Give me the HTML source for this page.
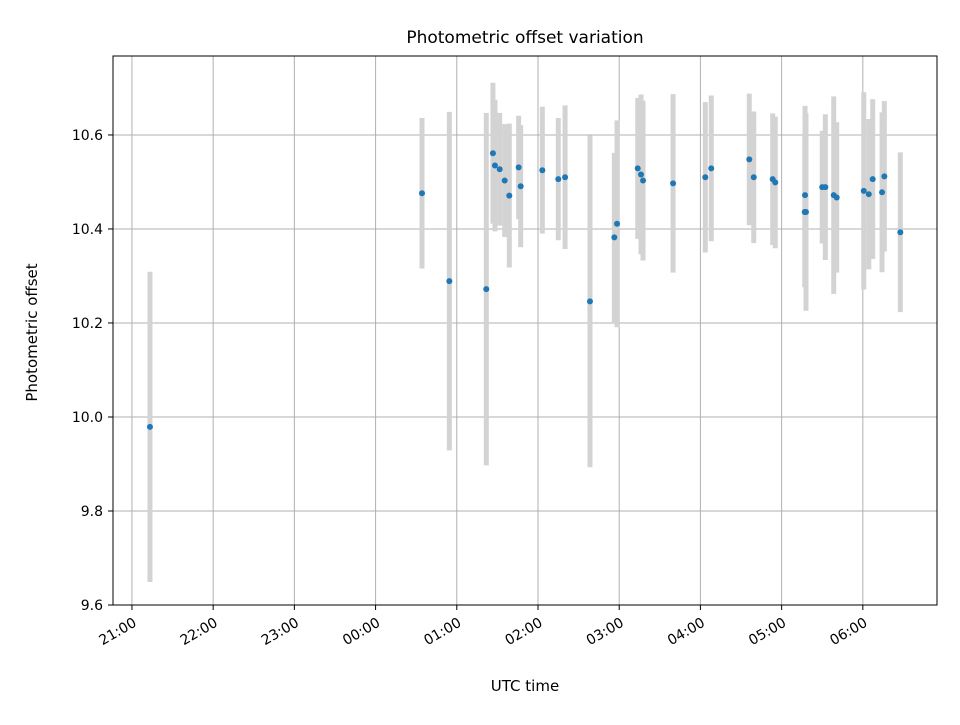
<!DOCTYPE html>
<html><head><meta charset="utf-8"><style>
body{margin:0;background:#fff;font-family:"Liberation Sans","DejaVu Sans",sans-serif}
svg text{font-family:"DejaVu Sans","Liberation Sans",sans-serif}
</style></head><body>
<svg id="chart" width="960" height="720" xmlns="http://www.w3.org/2000/svg"></svg>
<script>
// minutes since 21:00
const times=[13.3,214.3,234.5,261.8,266.7,268.2,271.7,275.4,278.8,285.7,287.2,303.2,315,320,338.4,356.4,358.4,373.7,376.1,377.6,399.8,423.6,428,456.1,459.4,473.4,475.3,497.1,498,497.3,510,512.3,518.5,520.7,540.7,544.4,547.3,554.2,555.9,567.7];
const offsets=[9.979,10.476,10.289,10.272,10.561,10.535,10.527,10.503,10.471,10.531,10.491,10.525,10.506,10.51,10.246,10.382,10.411,10.529,10.516,10.503,10.497,10.51,10.529,10.548,10.51,10.506,10.499,10.436,10.436,10.472,10.489,10.489,10.472,10.467,10.481,10.474,10.506,10.478,10.512,10.393];
const errors=[0.33,0.16,0.36,0.375,0.15,0.14,0.12,0.12,0.153,0.11,0.13,0.135,0.13,0.153,0.353,0.18,0.22,0.15,0.17,0.17,0.19,0.16,0.155,0.14,0.14,0.14,0.14,0.16,0.21,0.19,0.12,0.155,0.21,0.16,0.21,0.16,0.17,0.17,0.16,0.17];
const xTickLabels=["21:00","22:00","23:00","00:00","01:00","02:00","03:00","04:00","05:00","06:00"];
const yTicks=[9.6,9.8,10.0,10.2,10.4,10.6];

const L=113,R=937,T=56,B=605;
const xMin=-14,xMax=594.8,yMin=9.6,yMax=10.768;
const xs=m=>L+(m-xMin)/(xMax-xMin)*(R-L);
const ys=v=>B-(v-yMin)/(yMax-yMin)*(B-T);
const svg=document.getElementById('chart');
const NS="http://www.w3.org/2000/svg";
function mk(tag,attrs,parent){const e=document.createElementNS(NS,tag);for(const k in attrs)e.setAttribute(k,attrs[k]);(parent||svg).appendChild(e);return e;}

const grid=mk('g',{});


xTickLabels.forEach((lab,i)=>{
  const x=xs(i*60);
  const gl=mk('line',{x1:x,x2:x,y1:T,y2:B,stroke:'#b0b0b0','stroke-width':1},grid);
  
  
  const tk=mk('line',{x1:x,x2:x,y1:B,y2:B+5,stroke:'#000','stroke-width':1});
  
  
  const ax=x+3,ay=B+21;
  const t=mk('text',{x:ax,y:ay,'font-size':14,'text-anchor':'end',transform:`rotate(-30 ${ax} ${ay-5})`});
  t.textContent=lab;
  
  
});
yTicks.forEach(v=>{
  const y=ys(v);
  const gl=mk('line',{x1:L,x2:R,y1:y,y2:y,stroke:'#b0b0b0','stroke-width':1},grid);
  
  
  const tk=mk('line',{x1:L-5,x2:L,y1:y,y2:y,stroke:'#000','stroke-width':1});
  
  
  const t=mk('text',{x:L-10,y:y+5,'font-size':14,'text-anchor':'end'});
  t.textContent=v.toFixed(1);
  
  
});
times.forEach((m,i)=>{
  const x=xs(m);
  const eb=mk('line',{x1:x,x2:x,y1:ys(offsets[i]+errors[i]),y2:ys(offsets[i]-errors[i]),stroke:'#d3d3d3','stroke-width':5});
  
  
});
times.forEach((m,i)=>{
  const c=mk('circle',{cx:xs(m),cy:ys(offsets[i]),r:3,fill:'#1f77b4'});
  
  
});
const frame=mk('rect',{x:L,y:T,width:R-L,height:B-T,fill:'none',stroke:'#000','stroke-width':1});


const title=mk('text',{x:(L+R)/2,y:43,'font-size':17,'text-anchor':'middle'});
title.textContent='Photometric offset variation';


const xt=mk('text',{x:(L+R)/2,y:691,'font-size':15,'text-anchor':'middle'});
xt.textContent='UTC time';


const yt=mk('text',{x:37,y:(T+B)/2+2,'font-size':15,'text-anchor':'middle',transform:`rotate(-90 37 ${(T+B)/2+2})`});
yt.textContent='Photometric offset';


</script>
</body></html>
